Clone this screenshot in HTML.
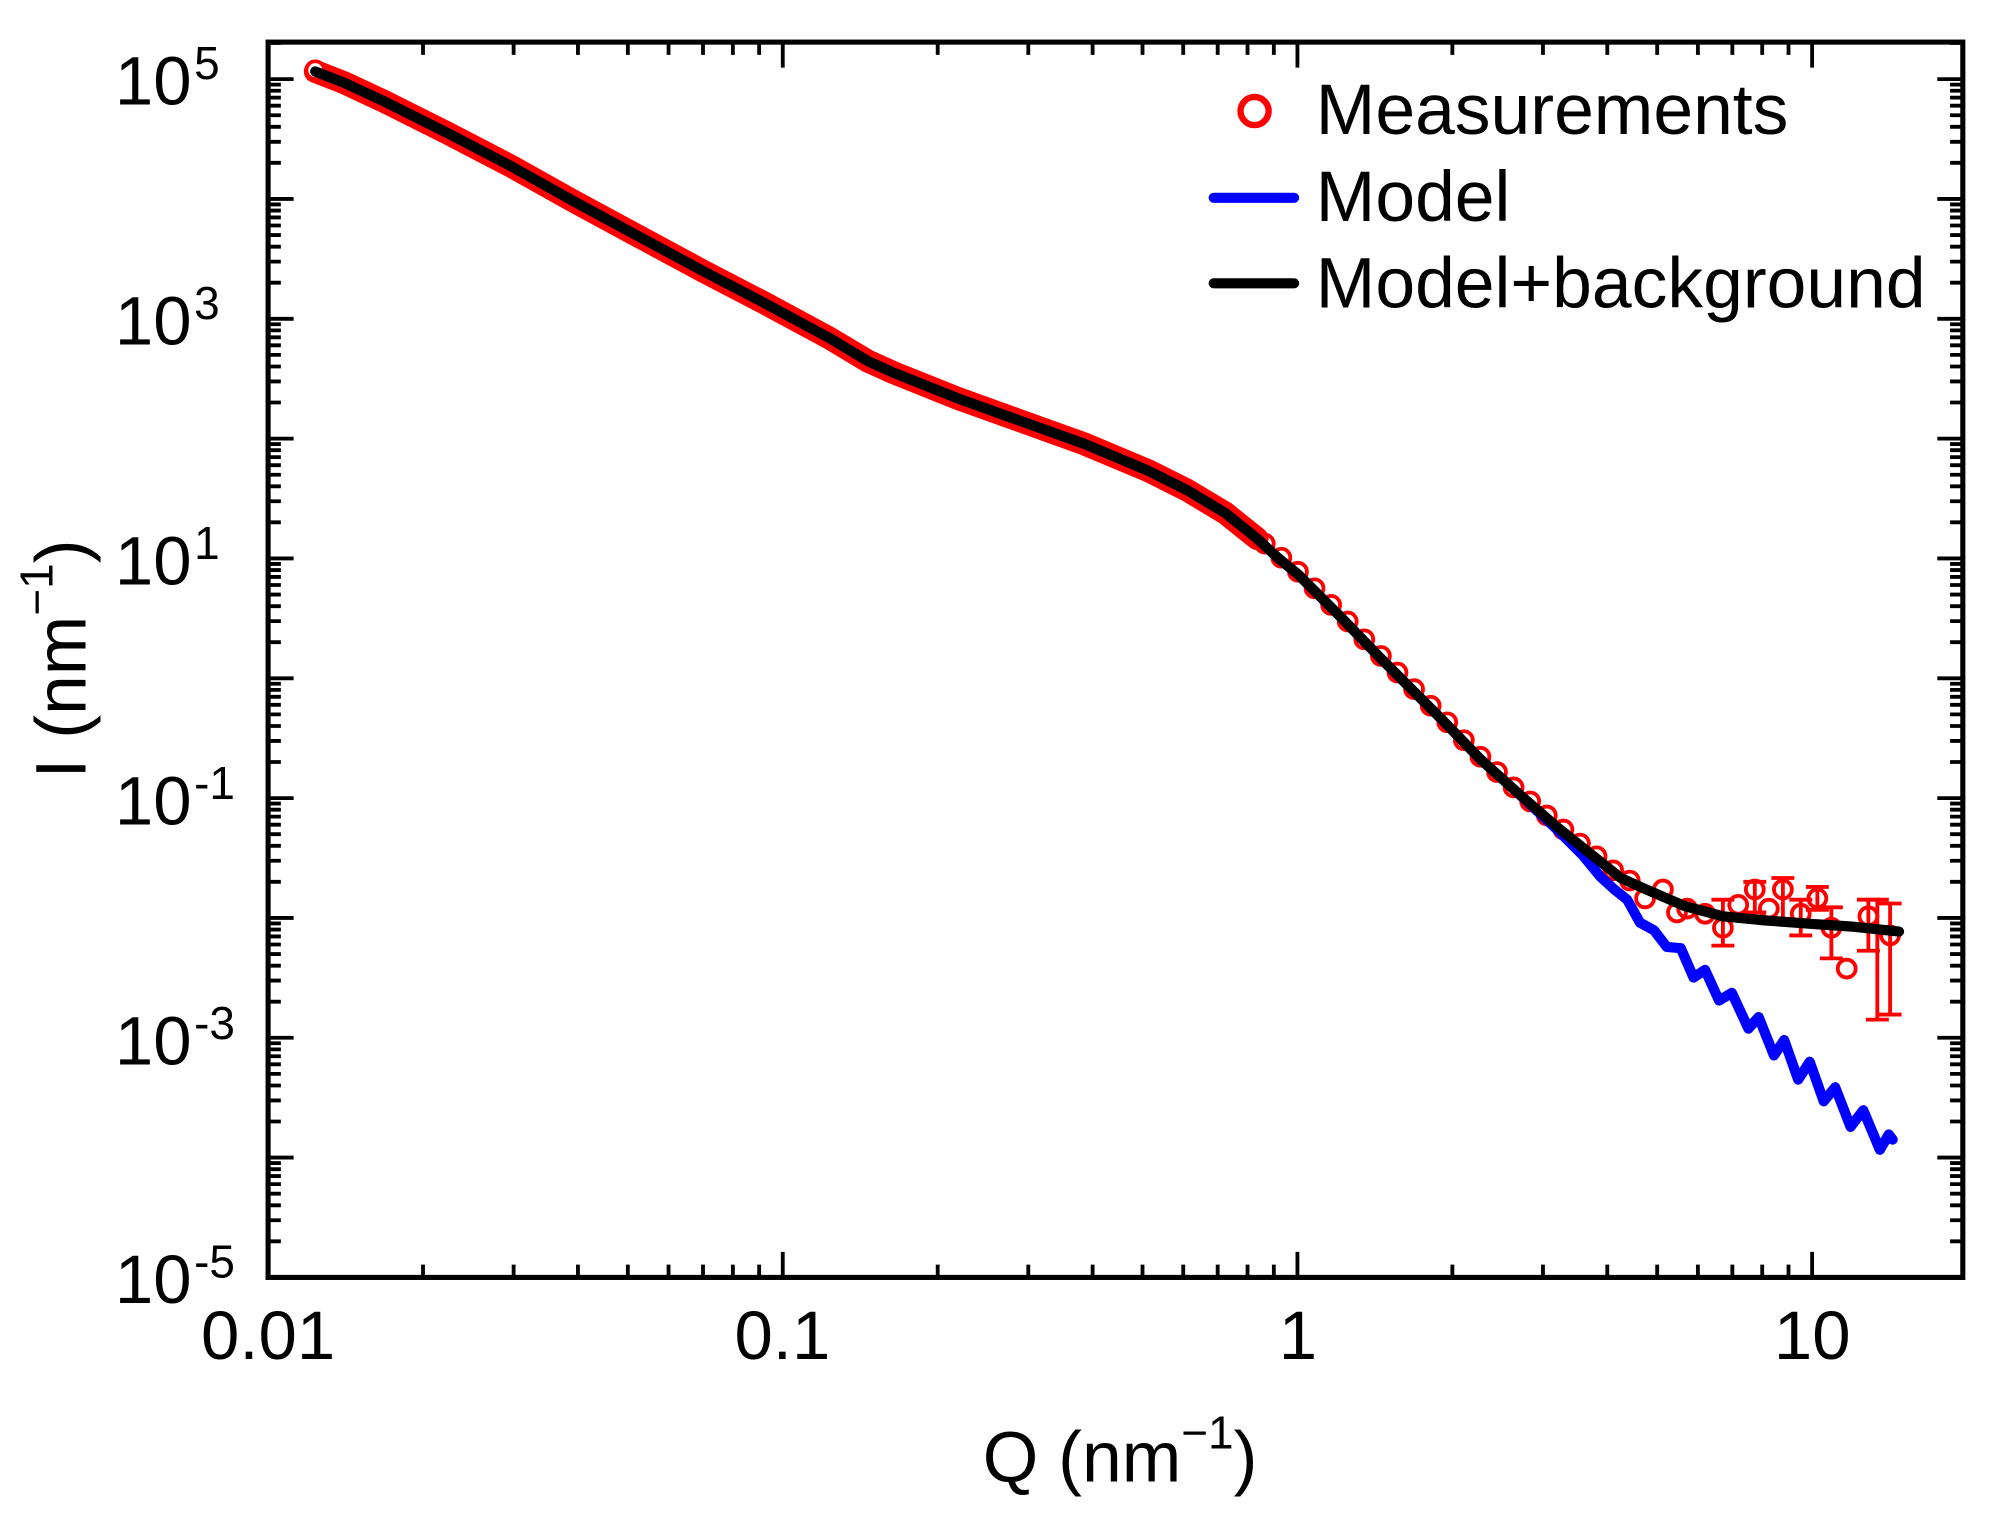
<!DOCTYPE html>
<html><head><meta charset="utf-8"><style>
html,body{margin:0;padding:0;background:#fff;}
svg{display:block;}
text{font-family:"Liberation Sans",Arial,sans-serif;fill:#000;}
</style></head><body>
<svg width="1991" height="1525" viewBox="0 0 1560 1195" xmlns="http://www.w3.org/2000/svg">
<defs>
<clipPath id="pc"><rect x="210" y="33" width="1328" height="968"/></clipPath>
<g id="yd" stroke="#000" stroke-width="3" fill="none">
<path d="M210,0h20M210,-28.3h10M210,-44.8h10M210,-56.5h10M210,-65.6h10M210,-73.1h10M210,-79.4h10M210,-84.8h10M210,-89.6h10"/>
<path d="M1538,0h-20M1538,-28.3h-10M1538,-44.8h-10M1538,-56.5h-10M1538,-65.6h-10M1538,-73.1h-10M1538,-79.4h-10M1538,-84.8h-10M1538,-89.6h-10"/>
</g>
<g id="xd" stroke="#000" stroke-width="3" fill="none">
<path d="M0,1001v-20M121.4,1001v-10M192.4,1001v-10M242.8,1001v-10M281.9,1001v-10M313.8,1001v-10M340.8,1001v-10M364.2,1001v-10M384.8,1001v-10"/>
<path d="M0,33v20M121.4,33v10M192.4,33v10M242.8,33v10M281.9,33v10M313.8,33v10M340.8,33v10M364.2,33v10M384.8,33v10"/>
</g>
</defs>
<rect width="1560" height="1195" fill="#fff"/>
<g clip-path="url(#pc)">
<use href="#yd" transform="translate(0,62)"/>
<use href="#yd" transform="translate(0,155.9)"/>
<use href="#yd" transform="translate(0,249.8)"/>
<use href="#yd" transform="translate(0,343.7)"/>
<use href="#yd" transform="translate(0,437.6)"/>
<use href="#yd" transform="translate(0,531.5)"/>
<use href="#yd" transform="translate(0,625.4)"/>
<use href="#yd" transform="translate(0,719.3)"/>
<use href="#yd" transform="translate(0,813.2)"/>
<use href="#yd" transform="translate(0,907.1)"/>
<use href="#yd" transform="translate(0,1001)"/>
<use href="#xd" transform="translate(210,0)"/>
<use href="#xd" transform="translate(613.3,0)"/>
<use href="#xd" transform="translate(1016.6,0)"/>
<use href="#xd" transform="translate(1419.9,0)"/>

<path d="M247,56 L270,65 300,79 350,104 400,130 450,158 500,185 550,212 600,238 650,265 680,283 700,292 750,312 800,330 850,348 900,369 930,384 960,402 985,422" fill="none" stroke="#ff0000" stroke-width="18" stroke-linejoin="round" stroke-linecap="round"/>
<circle cx="247" cy="55" r="7" fill="#fff" stroke="#ff0000" stroke-width="3"/>
<g fill="none" stroke="#ff0000" stroke-width="3">
<circle cx="991" cy="426" r="7"/><circle cx="1004" cy="437" r="7"/><circle cx="1017" cy="448" r="7"/>
<circle cx="1030" cy="461" r="7"/><circle cx="1043" cy="474" r="7"/><circle cx="1056" cy="487" r="7"/>
<circle cx="1069" cy="501" r="7"/><circle cx="1082" cy="514" r="7"/><circle cx="1095" cy="527" r="7"/>
<circle cx="1108" cy="540" r="7"/><circle cx="1121" cy="553" r="7"/><circle cx="1134" cy="566" r="7"/>
<circle cx="1147" cy="580" r="7"/><circle cx="1160" cy="593" r="7"/><circle cx="1173" cy="605" r="7"/>
<circle cx="1186" cy="617" r="7"/><circle cx="1199" cy="628" r="7"/><circle cx="1212" cy="639" r="7"/>
<circle cx="1225" cy="650" r="7"/><circle cx="1238" cy="661" r="7"/><circle cx="1251" cy="671" r="7"/>
<circle cx="1264" cy="682" r="7"/><circle cx="1277" cy="690" r="7"/>
<circle cx="1289" cy="704" r="7"/><circle cx="1303" cy="697" r="7"/><circle cx="1314" cy="715" r="7"/>
<circle cx="1322" cy="712" r="7"/><circle cx="1336" cy="716" r="7"/>
<circle cx="1350" cy="727" r="7"/><circle cx="1362" cy="709" r="7"/><circle cx="1375" cy="697" r="7"/>
<circle cx="1386" cy="712" r="7"/><circle cx="1397" cy="697" r="7"/><circle cx="1411" cy="716" r="7"/>
<circle cx="1424" cy="704" r="7"/><circle cx="1435" cy="727" r="7"/><circle cx="1447" cy="759" r="7"/>
<circle cx="1464" cy="718" r="7"/><circle cx="1481" cy="733" r="7"/>
</g>
<g fill="none" stroke="#ff0000" stroke-width="3">
<path d="M1350,705V741M1341,705h18M1341,741h18"/>
<path d="M1375,691V715M1366,691h18M1366,715h18"/>
<path d="M1397,688V720M1388,688h18M1388,720h18"/>
<path d="M1411,705V733M1402,705h18M1402,733h18"/>
<path d="M1424,695V713M1415,695h18M1415,713h18"/>
<path d="M1435,711V751M1426,711h18M1426,751h18"/>
<path d="M1464,705V745M1455,705h18M1455,745h18"/>
<path d="M1471,705V799M1462,705h18M1462,799h18"/>
<path d="M1481,708V795M1472,708h18M1472,795h18"/>
</g>
<path d="M247,56 L270,65 300,79 350,104 400,130 450,158 500,185 550,212 600,238 650,265 680,283 700,292 750,312 800,330 850,348 900,369 930,384 960,402 985,422 1000,436 1017,450 1050,483 1080,514 1100,534 1130,564 1160,595 1190,622 1220,650 1240,670 1254,687 1265,697 1275,705 1285,723 1296,729 1306,742 1317,743 1327,766 1336,760 1347,784 1357,778 1370,806 1378,797 1390,827 1398,815 1409,846 1418,832 1429,863 1438,852 1450,883 1460,870 1473,901 1480,889 1483,893" fill="none" stroke="#0000ff" stroke-width="8" stroke-linejoin="round" stroke-linecap="round"/>
<path d="M247,56 L270,65 300,79 350,104 400,130 450,158 500,185 550,212 600,238 650,265 680,283 700,292 750,312 800,330 850,348 900,369 930,384 960,402 985,422 1000,436 1017,450 1050,483 1080,514 1100,534 1130,564 1160,595 1190,622 1220,648 1250,672 1270,688 1290,697 1320,710 1350,718 1380,721 1420,724 1450,726 1488,730" fill="none" stroke="#000" stroke-width="8" stroke-linejoin="round" stroke-linecap="round"/>
</g>
<rect x="210" y="33" width="1328" height="968" fill="none" stroke="#000" stroke-width="4"/>

<g font-size="54">
<text x="150" y="82" text-anchor="end">10</text><text x="152" y="62" font-size="36">5</text>
<text x="150" y="270" text-anchor="end">10</text><text x="152" y="250" font-size="36">3</text>
<text x="150" y="458" text-anchor="end">10</text><text x="152" y="438" font-size="36">1</text>
<text x="150" y="646" text-anchor="end">10</text><text x="152" y="626" font-size="36">-1</text>
<text x="150" y="834" text-anchor="end">10</text><text x="152" y="814" font-size="36">-3</text>
<text x="150" y="1021" text-anchor="end">10</text><text x="152" y="1001" font-size="36">-5</text>
</g>
<g font-size="54" text-anchor="middle">
<text x="210" y="1065">0.01</text>
<text x="613" y="1065">0.1</text>
<text x="1017" y="1065">1</text>
<text x="1420" y="1065">10</text>
</g>
<text x="770" y="1161" font-size="56">Q (nm<tspan font-size="36" dy="-26">−1</tspan><tspan dy="26">)</tspan></text>
<text transform="translate(67,610) rotate(-90)" font-size="56">I (nm<tspan font-size="36" dy="-26">−1</tspan><tspan dy="26">)</tspan></text>

<circle cx="983" cy="87" r="11" fill="none" stroke="#ff0000" stroke-width="5"/>
<text x="1031" y="105" font-size="56">Measurements</text>
<line x1="951" y1="155" x2="1014" y2="155" stroke="#0000ff" stroke-width="8" stroke-linecap="round"/>
<text x="1031" y="173" font-size="56">Model</text>
<line x1="951" y1="222" x2="1014" y2="222" stroke="#000" stroke-width="8" stroke-linecap="round"/>
<text x="1031" y="241" font-size="56">Model+background</text>
</svg>
</body></html>
